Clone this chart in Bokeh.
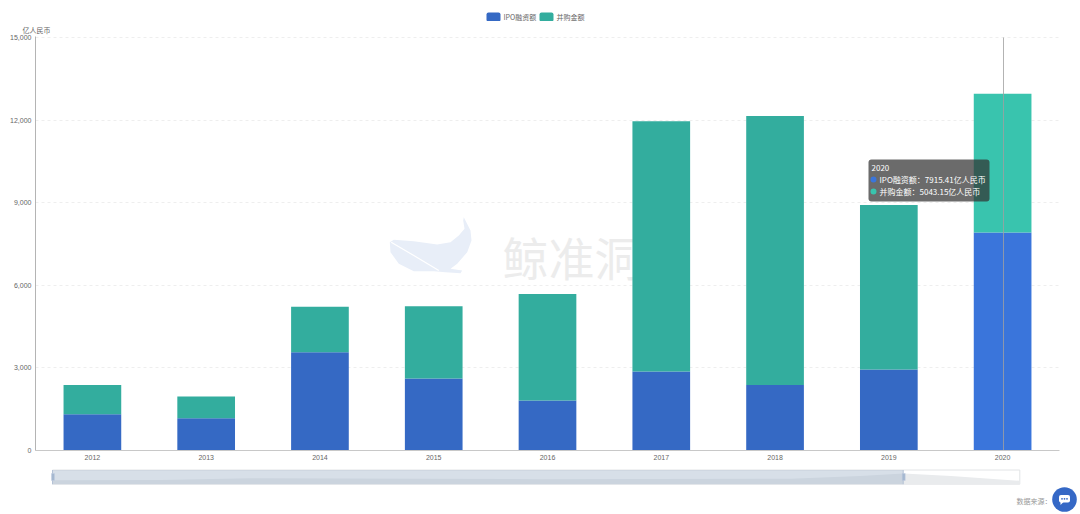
from bokeh.plotting import figure
from bokeh.layouts import column
from bokeh.embed import file_html
from bokeh.resources import INLINE
from bokeh.core.properties import value
from bokeh.models import ColumnDataSource, FixedTicker, NumeralTickFormatter, Range1d
import numpy as np

years = ["2012", "2013", "2014", "2015", "2016", "2017", "2018", "2019", "2020"]
ipo = [1320, 1175, 3569, 2612, 1814, 2865, 2383, 2945, 7915.41]
mna = [1063, 784, 1654, 2626, 3870, 9094, 9768, 5967, 5043.15]
y_ticks = [0, 3000, 6000, 9000, 12000, 15000]
series_names = ["IPO融资额", "并购金额"]

ipo_colors = ["#3569c4"] * 8 + ["#3a75db"]
mna_colors = ["#33ad9e"] * 8 + ["#39c4ae"]

# slider shadow
shadow_frac = [0.0, 0.112, 0.205, 0.505, 0.763, 0.835, 0.880, 0.929, 1.0]
shadow_val = [0.28, 0.30, 0.42, 0.35, 0.38, 0.58, 0.76, 0.58, 0.24]

CJK = "Noto Sans CJK SC"
LAT = "Liberation Sans"
TXT = "#666666"

xpos = [i + 0.5 for i in range(len(years))]
total = list(np.array(ipo) + np.array(mna))
src = ColumnDataSource(dict(x=xpos, ipo=ipo, total=total, ic=ipo_colors, mc=mna_colors))

# legend strip, in page pixels
p0 = figure(x_range=Range1d(0, 1080), y_range=Range1d(21, 0), width=1080, height=21,
            output_backend="svg", toolbar_location=None, min_border=0,
            outline_line_color=None, x_axis_location=None, y_axis_location=None, frame_align=False)
p0.grid.visible = False
p0.quad(left=[486, 539], right=[500, 553], top=[12, 12], bottom=[21, 21],
        fill_color=[ipo_colors[0], mna_colors[0]], line_color=None, border_radius=2)
p0.text([503, 556], [16, 16], text=series_names, text_font=value(CJK), text_font_size="7px",
        text_color=TXT, text_baseline="middle")

p = figure(x_range=Range1d(0, len(years)), y_range=Range1d(0, 15036.3), frame_width=1024, frame_height=414,
           width=1080, height=442, output_backend="svg", toolbar_location=None,
           min_border_left=35, min_border_right=21, min_border_top=15, min_border_bottom=13,
           outline_line_color=None, background_fill_color="white", frame_align=False)
p.extra_x_ranges["px"] = Range1d(35, 1059)
p.extra_y_ranges["px"] = Range1d(450, 36)

p.title.text = "亿人民币"
p.title.text_font = CJK
p.title.text_font_size = "7px"
p.title.text_font_style = "normal"
p.title.text_color = TXT
p.title.offset = -13
p.title.standoff = 3

p.xgrid.visible = False
p.ygrid.ticker = FixedTicker(ticks=y_ticks)
p.ygrid.grid_line_color = "#eeeeee"
p.ygrid.grid_line_dash = "3 3"

p.xaxis.ticker = FixedTicker(ticks=xpos)
p.xaxis.major_label_overrides = {x: y for x, y in zip(xpos, years)}
p.yaxis.ticker = FixedTicker(ticks=y_ticks)
p.yaxis.formatter = NumeralTickFormatter(format="0,0")
for ax in (p.xaxis[0], p.yaxis[0]):
    ax.major_label_text_font = LAT
    ax.major_label_text_font_size = "7px"
    ax.major_label_text_color = TXT
    ax.major_tick_in = 0
    ax.major_tick_out = 0
    ax.minor_tick_line_color = None
    ax.major_tick_line_color = None
p.yaxis.axis_line_color = "#b4b4b4"
p.xaxis.axis_line_color = "#c8c8c8"
p.yaxis.major_label_standoff = 4
p.xaxis.major_label_standoff = 4

# watermark
whale_x = [463.3, 470, 471, 466.7, 456.7, 450, 461.7, 460, 445, 433.3, 413.3, 398.3, 390, 389.3, 393.3, 413.3, 436.7, 450, 458.3, 464, 462.7]
whale_y = [216.7, 230, 240, 251.7, 263.3, 268.3, 270, 272.7, 271.7, 270.7, 270.7, 263.3, 251.7, 241.7, 239.3, 240.7, 244, 241.7, 235, 228.3, 220]
p.patch(whale_x, whale_y, fill_color="#e8eef8", line_color=None, x_range_name="px", y_range_name="px")
p.line([390.7, 413.3, 438.3], [241.7, 255, 270], line_color="white", line_width=1.2, x_range_name="px", y_range_name="px")
p.text([502], [255], text=["鲸准洞见"], text_font=value(CJK), text_font_size="46px", text_color="#ececec",
       text_baseline="middle", x_range_name="px", y_range_name="px")

p.vbar(x="x", top="ipo", bottom=0, width=0.507, source=src, fill_color="ic", line_color=None)
p.vbar(x="x", top="total", bottom="ipo", width=0.507, source=src, fill_color="mc", line_color=None)

# axis pointer
p.line([1003, 1003], [37, 450], line_color="#a0a0a0", line_width=1, line_alpha=0.8, x_range_name="px", y_range_name="px")

# tooltip
p.quad(left=[868], right=[989], top=[159], bottom=[201], fill_color="#323232", fill_alpha=0.72, line_color=None,
       border_radius=3, x_range_name="px", y_range_name="px")
p.scatter([873, 873], [179, 191], size=6, fill_color=[ipo_colors[8], mna_colors[8]], line_color=None,
          x_range_name="px", y_range_name="px")
p.text([871, 879, 879], [167.5, 179, 191],
       text=[years[8], f"{series_names[0]}：{ipo[8]:.2f}亿人民币", f"{series_names[1]}：{mna[8]:.2f}亿人民币"],
       text_font=value(CJK), text_font_size="8px", text_color="white", text_baseline="middle",
       x_range_name="px", y_range_name="px")

# slider + footer, in page pixels
p2 = figure(x_range=Range1d(0, 1080), y_range=Range1d(514, 463), width=1080, height=51,
            output_backend="svg", toolbar_location=None, min_border=0,
            outline_line_color=None, x_axis_location=None, y_axis_location=None, frame_align=False)
p2.grid.visible = False

sl, sr, st, sb, cut = 52, 1019.3, 469.5, 483.7, 902.7
fx = sl + np.array(shadow_frac) * (sr - sl)
fy = sb - np.array(shadow_val) * (sb - st)
p2.quad(left=[sl], right=[sr], top=[st], bottom=[sb], fill_color="white", line_color="#e2e4e6", line_width=1)
p2.varea(x=fx, y1=fy, y2=[sb] * len(fx), fill_color="#e9ebed")
p2.quad(left=[sl], right=[cut], top=[st], bottom=[sb], fill_color="#a7b7cc", fill_alpha=0.45, line_color=None)
p2.segment(x0=[sl, cut], x1=[sl, cut], y0=[st, st], y1=[sb, sb], line_color="#b4c2d6", line_width=1)
p2.quad(left=[sl - 1, cut - 1], right=[sl + 2, cut + 2], top=[473, 473], bottom=[480, 480],
        fill_color="#a5b8d0", line_color="#c0cde0", line_width=0.5)

p2.text([1016], [500], text=["数据来源："], text_font=value(CJK), text_font_size="7px", text_color="#999999",
        text_baseline="middle")
p2.circle([1064], [499], radius=12.3, fill_color="#3568c6", line_color=None)
p2.quad(left=[1058.5], right=[1069.5], top=[494.5], bottom=[502], fill_color="white", line_color=None, border_radius=2)
p2.patch([1060, 1063, 1060], [501.5, 501.5, 504.5], fill_color="white", line_color=None)
p2.scatter([1061.5, 1064, 1066.5], [498.3, 498.3, 498.3], size=1.8, fill_color="#3568c6", line_color=None)

layout = column(p0, p, p2, spacing=0)
open("out.html", "w").write(file_html(layout, INLINE))
